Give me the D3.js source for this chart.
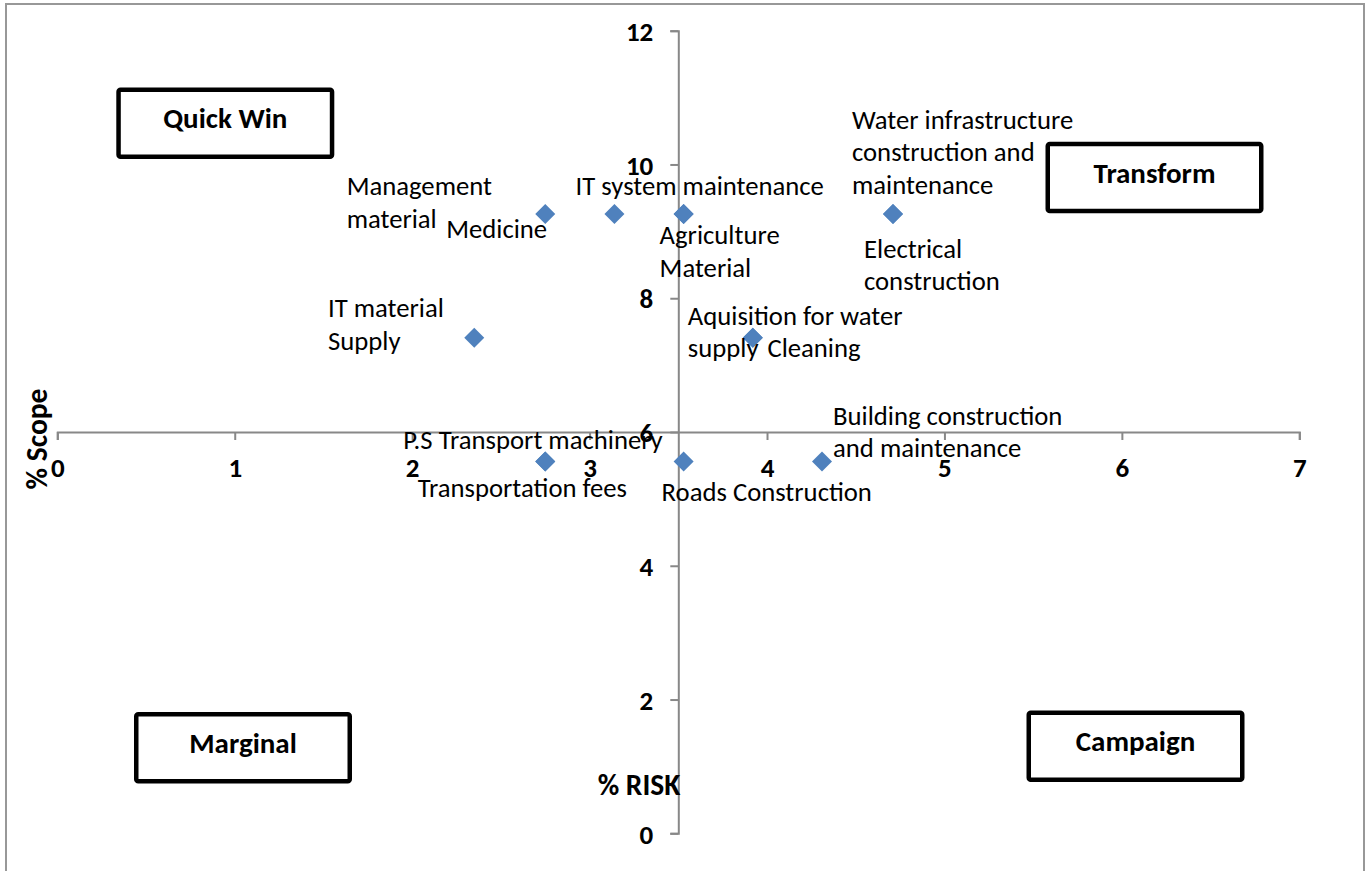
<!DOCTYPE html>
<html>
<head>
<meta charset="utf-8">
<script src="https://cdn.jsdelivr.net/npm/d3@7"></script>
<style>
  html, body { margin: 0; padding: 0; background: #fff; }
  svg { display: block; }
</style>
</head>
<body>
<svg id="chart" width="1371" height="871"></svg>
<script>
// ---- data ----
const items = [
  "Management material",
  "Medicine",
  "IT system maintenance",
  "Agriculture Material",
  "Water infrastructure construction and maintenance",
  "Electrical construction",
  "IT material Supply",
  "Aquisition for water supply",
  "Cleaning",
  "P.S Transport machinery",
  "Transportation fees",
  "Roads Construction",
  "Building construction and maintenance"
];
const risk  = [2.75, 3.14, 3.53, 3.53, 4.71, 4.71, 2.35, 3.92, 3.92, 2.75, 2.75, 3.53, 4.31];
const scope = [9.26, 9.26, 9.26, 9.26, 9.26, 9.26, 7.41, 7.41, 7.41, 5.56, 5.56, 5.56, 5.56];
const xTicks = [0, 1, 2, 3, 4, 5, 6, 7];
const yTicks = [0, 2, 4, 6, 8, 10, 12];
const quadrants = ["Quick Win", "Transform", "Marginal", "Campaign"];
const xTitle = "% RISK";
const yTitle = "% Scope";

// ---- layout ----
const plot = { left: 57.3, right: 1299.3, top: 30.7, bottom: 833.3 };
const FONT = "Carlito, Calibri, Lato, 'Open Sans', sans-serif";
const LINE = 32.5;

// label placement relative to each point (first baseline), in pixels
const labelLayout = {
  "Management material": { lines: ["Management", "material"], dx: -198.6, dy: -18.7 },
  "Medicine": { lines: ["Medicine"], dx: -67.3, dy: 23.6, anchor: "end" },
  "IT system maintenance": { lines: ["IT system maintenance"], dx: -108, dy: -19.4 },
  "Agriculture Material": { lines: ["Agriculture", "Material"], dx: -24, dy: 30.3 },
  "Water infrastructure construction and maintenance": { lines: ["Water infrastructure", "construction and", "maintenance"], dx: -41, dy: -85.4 },
  "Electrical construction": { lines: ["Electrical", "construction"], dx: -29, dy: 43.6 },
  "IT material Supply": { lines: ["IT material", "Supply"], dx: -146.3, dy: -20.4 },
  "Aquisition for water supply": { lines: ["Aquisition for water", "supply"], dx: -65, dy: -12.7 },
  "Cleaning": { lines: ["Cleaning"], dx: 14.6, dy: 19 },
  "P.S Transport machinery": { lines: ["P.S Transport machinery"], dx: -142, dy: -12.4 },
  "Transportation fees": { lines: ["Transportation fees"], dx: -127.6, dy: 35.6 },
  "Roads Construction": { lines: ["Roads Construction"], dx: -22, dy: 40 },
  "Building construction and maintenance": { lines: ["Building construction", "and maintenance"], dx: 11, dy: -36.7 }
};

// quadrant boxes (centre, pixels)
const quadLayout = {
  "Quick Win": { cx: 225.3, cy: 123.3 },
  "Transform": { cx: 1154.5, cy: 177.5 },
  "Marginal":  { cx: 243,   cy: 747.8 },
  "Campaign":  { cx: 1135.5, cy: 746.3 }
};
const boxW = 213.5, boxH = 67;

const svg = d3.select("#chart");

// outer chart frame
svg.append("rect")
  .attr("x", 6).attr("y", 4)
  .attr("width", 1358).attr("height", 900)
  .attr("fill", "#fff")
  .attr("stroke", "#989898")
  .attr("stroke-width", 2);

const x = d3.scaleLinear().domain([0, 7]).range([plot.left, plot.right]);
const y = d3.scaleLinear().domain([0, 12]).range([plot.bottom, plot.top]);

// axes cross at the middle of each other's range
const xAxisY = y(6);
const yAxisX = x(3.5);

const axisColor = "#888888";

const gx = svg.append("g")
  .attr("transform", `translate(0,${xAxisY})`)
  .call(d3.axisBottom(x).tickValues(xTicks).tickSize(8).tickSizeOuter(8).tickPadding(18)
        .tickFormat(d3.format("d")));
const gy = svg.append("g")
  .attr("transform", `translate(${yAxisX},0)`)
  .call(d3.axisLeft(y).tickValues(yTicks).tickSize(8).tickSizeOuter(8).tickPadding(17)
        .tickFormat(d3.format("d")));

[gx, gy].forEach(g => {
  g.select(".domain").attr("stroke", axisColor).attr("stroke-width", 2);
  g.selectAll(".tick line").attr("stroke", axisColor).attr("stroke-width", 2);
  g.selectAll(".tick text")
    .attr("fill", "#000")
    .style("font-family", FONT)
    .style("font-weight", "bold")
    .style("font-size", "27px");
});
gy.selectAll(".tick text").attr("dy", "0.36em");

// axis titles
svg.append("text")
  .attr("x", 639).attr("y", 795)
  .attr("text-anchor", "middle")
  .style("font-family", FONT).style("font-weight", "bold").style("font-size", "29.5px")
  .text(xTitle);
svg.append("text")
  .attr("transform", `translate(47,439) rotate(-90)`)
  .attr("text-anchor", "middle")
  .style("font-family", FONT).style("font-weight", "bold").style("font-size", "29.5px")
  .text(yTitle);

// quadrant boxes
const qg = svg.append("g").selectAll("g").data(quadrants).join("g")
  .attr("transform", d => `translate(${quadLayout[d].cx},${quadLayout[d].cy})`);
qg.append("rect")
  .attr("x", -boxW / 2).attr("y", -boxH / 2)
  .attr("width", boxW).attr("height", boxH)
  .attr("rx", 2)
  .attr("fill", "#fff").attr("stroke", "#000").attr("stroke-width", 4.5);
qg.append("text")
  .attr("y", 5)
  .attr("text-anchor", "middle")
  .style("font-family", FONT).style("font-weight", "bold").style("font-size", "29px")
  .text(d => d);

// data rows
const rows = items.map((name, i) => ({ name, risk: risk[i], scope: scope[i] }));

// markers
svg.append("g").selectAll("path").data(rows).join("path")
  .attr("d", d3.symbol(d3.symbolSquare, 200))
  .attr("transform", d => `translate(${x(d.risk)},${y(d.scope)}) rotate(45)`)
  .attr("fill", "#4F81BD");

// point labels
const lg = svg.append("g").selectAll("text").data(rows).join("text")
  .attr("x", d => x(d.risk) + labelLayout[d.name].dx)
  .attr("y", d => y(d.scope) + labelLayout[d.name].dy)
  .attr("text-anchor", d => labelLayout[d.name].anchor || "start")
  .style("font-family", FONT).style("font-size", "26.7px").attr("fill", "#000");
lg.selectAll("tspan").data(d => labelLayout[d.name].lines.map(l => ({ l, px: x(d.risk) + labelLayout[d.name].dx })))
  .join("tspan")
  .attr("x", t => t.px)
  .attr("dy", (t, i) => i === 0 ? 0 : LINE)
  .text(t => t.l);
</script>
</body>
</html>
